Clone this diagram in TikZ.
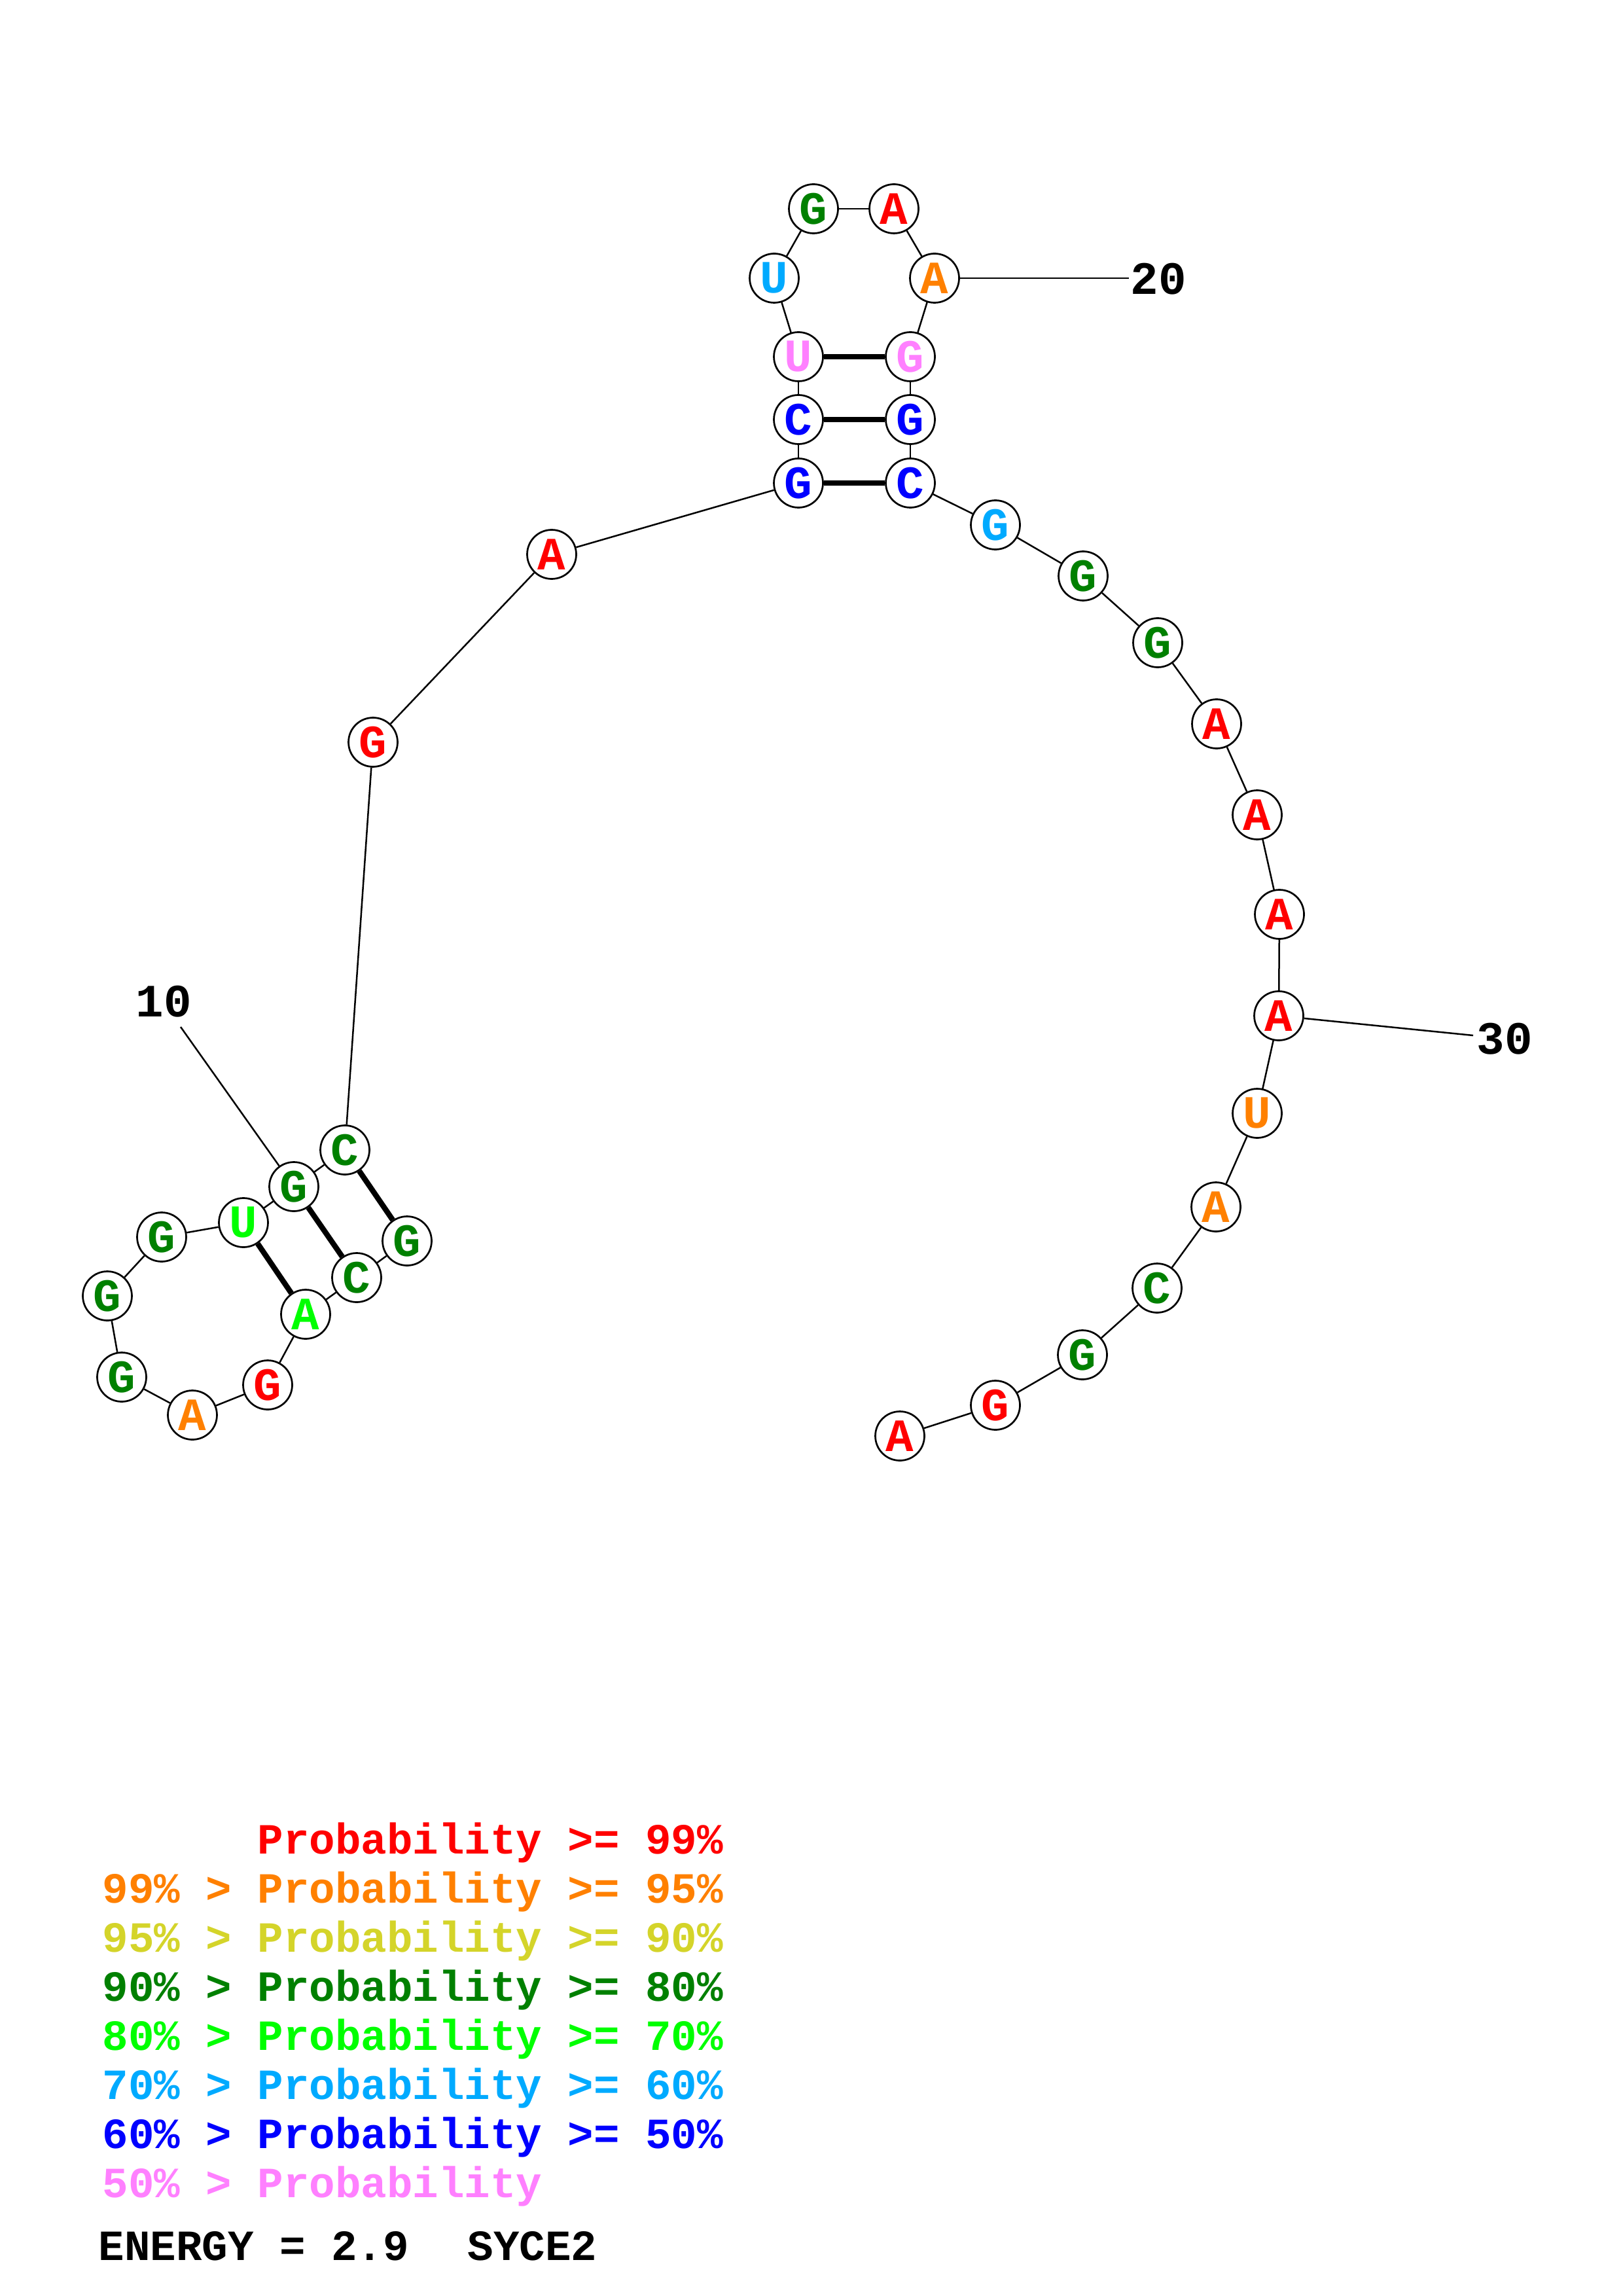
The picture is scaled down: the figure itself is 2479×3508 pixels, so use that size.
\documentclass[tikz,border=0pt]{standalone}
\usepackage{fontspec}
\setmainfont{Liberation Mono}
\newfontfamily\mono{Liberation Mono}
\definecolor{cR}{RGB}{255,0,0}
\definecolor{cO}{RGB}{255,128,0}
\definecolor{cY}{RGB}{212,212,42}
\definecolor{cG}{RGB}{0,128,0}
\definecolor{cL}{RGB}{0,255,0}
\definecolor{cC}{RGB}{0,170,255}
\definecolor{cB}{RGB}{0,0,255}
\definecolor{cP}{RGB}{255,128,255}
\tikzset{
  base/.style={circle,draw=black,line width=0.65pt,fill=white,minimum size=18pt,inner sep=0pt,font=\mono\bfseries\fontsize{17}{17}\selectfont},
  bb/.style={line width=0.6pt},
  pr/.style={line width=2pt},
  lab/.style={font=\mono\bfseries\fontsize{17}{17}\selectfont,inner sep=0pt},
  leg/.style={font=\mono\bfseries\fontsize{15.8}{15.8}\selectfont,inner sep=0pt,anchor=base west}
}
\begin{document}
\begin{tikzpicture}[x=0.24pt,y=-0.24pt]
\useasboundingbox (0,0) rectangle (2479,3508);
\fill[white] (0,0) rectangle (2479,3508);
% nodes
\node[base,text=cG] (n1) at (622,1896) {G};
\node[base,text=cG] (n2) at (545,1952) {C};
\node[base,text=cL] (n3) at (467,2008) {A};
\node[base,text=cR] (n4) at (409,2116) {G};
\node[base,text=cO] (n5) at (294,2162) {A};
\node[base,text=cG] (n6) at (186,2104) {G};
\node[base,text=cG] (n7) at (164,1980) {G};
\node[base,text=cG] (n8) at (247,1890) {G};
\node[base,text=cL] (n9) at (372,1868) {U};
\node[base,text=cG] (n10) at (449,1813) {G};
\node[base,text=cG] (n11) at (527,1757) {C};
\node[base,text=cR] (n12) at (570,1134) {G};
\node[base,text=cR] (n13) at (843,847) {A};
\node[base,text=cB] (n14) at (1220,738) {G};
\node[base,text=cB] (n15) at (1220,641) {C};
\node[base,text=cP] (n16) at (1220,545) {U};
\node[base,text=cC] (n17) at (1183,425) {U};
\node[base,text=cG] (n18) at (1243,319) {G};
\node[base,text=cR] (n19) at (1366,319) {A};
\node[base,text=cO] (n20) at (1428,425) {A};
\node[base,text=cP] (n21) at (1391,545) {G};
\node[base,text=cB] (n22) at (1391,641) {G};
\node[base,text=cB] (n23) at (1391,738) {C};
\node[base,text=cC] (n24) at (1521,802) {G};
\node[base,text=cG] (n25) at (1655,880) {G};
\node[base,text=cG] (n26) at (1769,982) {G};
\node[base,text=cR] (n27) at (1859,1106) {A};
\node[base,text=cR] (n28) at (1921,1245) {A};
\node[base,text=cR] (n29) at (1955,1397) {A};
\node[base,text=cR] (n30) at (1954,1552) {A};
\node[base,text=cO] (n31) at (1921,1701) {U};
\node[base,text=cO] (n32) at (1858,1844) {A};
\node[base,text=cG] (n33) at (1768,1968) {C};
\node[base,text=cG] (n34) at (1654,2070) {G};
\node[base,text=cR] (n35) at (1521,2147) {G};
\node[base,text=cR] (n36) at (1375,2194) {A};
% backbone
\foreach \a/\b in {1/2,2/3,3/4,4/5,5/6,6/7,7/8,8/9,9/10,10/11,11/12,12/13,13/14,14/15,15/16,16/17,17/18,18/19,19/20,20/21,21/22,22/23,23/24,24/25,25/26,26/27,27/28,28/29,29/30,30/31,31/32,32/33,33/34,34/35,35/36}
  \draw[bb] (n\a) -- (n\b);
% pairs
\foreach \a/\b in {1/11,2/10,3/9,14/23,15/22,16/21}
  \draw[pr] (n\a) -- (n\b);
% number labels
\coordinate (e10) at (276,1569);
\coordinate (e20) at (1725,425);
\coordinate (e30) at (2251,1582);
\draw[bb] (n10) -- (e10);
\draw[bb] (n20) -- (e20);
\draw[bb] (n30) -- (e30);
\node[lab,anchor=base west] (l10) at (207,1553) {10};
\node[lab,anchor=base west] (l20) at (1727,450) {20};
\node[lab,anchor=base west] (l30) at (2256,1610) {30};
% legend
\node[leg,text=cR] (g1) at (156,2832) {\phantom{99\% > }Probability >= 99\%};
\node[leg,text=cO] (g2) at (156,2907) {99\% > Probability >= 95\%};
\node[leg,text=cY] (g3) at (156,2982) {95\% > Probability >= 90\%};
\node[leg,text=cG] (g4) at (156,3057) {90\% > Probability >= 80\%};
\node[leg,text=cL] (g5) at (156,3132) {80\% > Probability >= 70\%};
\node[leg,text=cC] (g6) at (156,3207) {70\% > Probability >= 60\%};
\node[leg,text=cB] (g7) at (156,3282) {60\% > Probability >= 50\%};
\node[leg,text=cP] (g8) at (156,3357) {50\% > Probability};
\node[leg,text=black] (en) at (150,3453) {ENERGY = 2.9};
\node[leg,text=black] (nm) at (714,3453) {SYCE2};
\end{tikzpicture}
\end{document}
